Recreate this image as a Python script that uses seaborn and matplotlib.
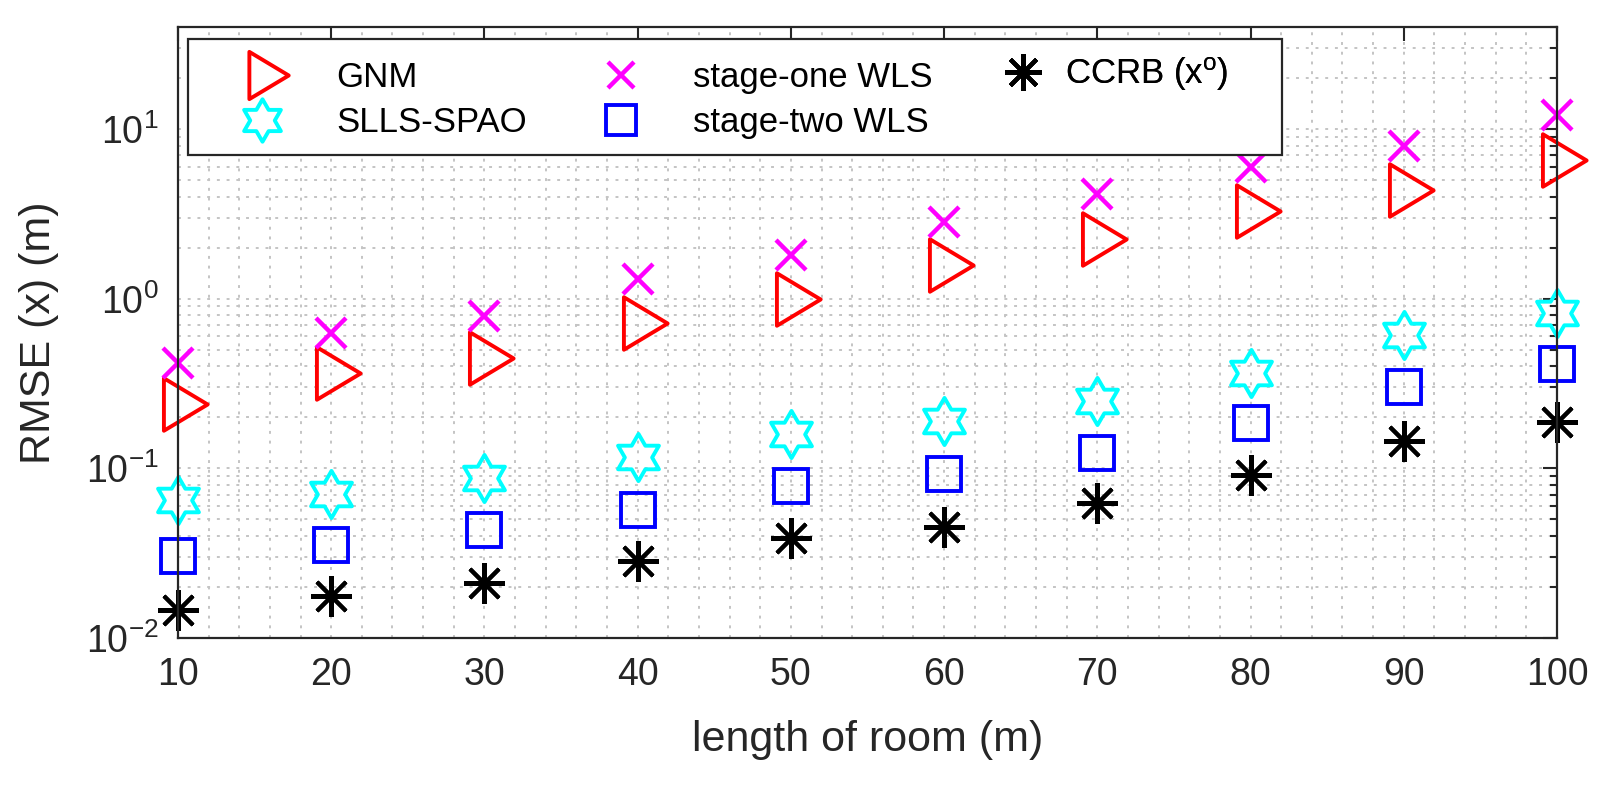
import numpy as np
import matplotlib
matplotlib.use('Agg')
import matplotlib.pyplot as plt
import seaborn as sns
from matplotlib.path import Path
from matplotlib.patches import Rectangle
from matplotlib.ticker import LogLocator, MultipleLocator, NullFormatter, LogFormatterSciNotation, FixedLocator

# ---- data ----
room_length = [10, 20, 30, 40, 50, 60, 70, 80, 90, 100]
gnm = [0.238, 0.363, 0.448, 0.72, 1.0, 1.59, 2.26, 3.31, 4.39, 6.6]
stage_one_wls = [0.418, 0.628, 0.787, 1.31, 1.81, 2.84, 4.15, 5.98, 7.93, 12.1]
slls_spao = [0.065, 0.071, 0.0875, 0.116, 0.160, 0.19, 0.251, 0.363, 0.61, 0.82]
stage_two_wls = [0.0304, 0.0355, 0.0432, 0.0565, 0.0792, 0.0925, 0.124, 0.185, 0.302, 0.412]
ccrb = [0.0146, 0.0176, 0.0211, 0.0284, 0.0386, 0.045, 0.0624, 0.0912, 0.145, 0.187]
x_ticks = [10, 20, 30, 40, 50, 60, 70, 80, 90, 100]
labels = ['GNM', 'SLLS-SPAO', 'stage-one WLS', 'stage-two WLS', 'CCRB (x$^{\\mathrm{o}}$)']

sns.set_theme(style='white')
plt.rcParams['font.family'] = ['Liberation Sans', 'DejaVu Sans']
plt.rcParams['mathtext.fontset'] = 'custom'
plt.rcParams['mathtext.rm'] = 'Liberation Sans'
plt.rcParams['mathtext.it'] = 'Liberation Sans:italic'
plt.rcParams['mathtext.bf'] = 'Liberation Sans:bold'

DARK = '#262626'

# custom markers (centred like MATLAB)
tri = Path([(-1, 1.8), (2, 0), (-1, -1.8), (-1, 1.8)],
           [Path.MOVETO, Path.LINETO, Path.LINETO, Path.CLOSEPOLY])
hv = []
for k in range(6):
    a_out = np.deg2rad(90 + 60 * k)
    a_in = np.deg2rad(120 + 60 * k)
    hv.append((np.cos(a_out), np.sin(a_out)))
    hv.append((np.cos(a_in) / np.sqrt(3), np.sin(a_in) / np.sqrt(3)))
hv.append(hv[0])
hexa = Path(hv, [Path.MOVETO] + [Path.LINETO] * 11 + [Path.CLOSEPOLY])

fig = plt.figure(figsize=(16.18, 7.89), dpi=100)
ax = fig.add_axes([0.1100, 0.1914, 0.8523, 0.7744])

series = [
    (labels[0], gnm, tri, 42, 'red', 2.8),
    (labels[1], slls_spao, hexa, 34, 'cyan', 2.8),
    (labels[2], stage_one_wls, 'x', 21.5, 'magenta', 3.2),
    (labels[3], stage_two_wls, 's', 24, 'blue', 2.8),
    (labels[4], ccrb, (8, 2, 0), 29.5, 'black', 2.9),
]
handles = []
for label, vals, mk, ms, col, mew in series:
    sns.lineplot(x=room_length, y=vals, ax=ax, marker=mk, markersize=ms,
                 linestyle='', markerfacecolor='none', markeredgecolor=col,
                 markeredgewidth=mew, color=col, label=label, legend=False,
                 clip_on=False)
    handles.append(ax.lines[-1])

ax.set_yscale('log')
ax.set_xlim(10, 100)
ax.set_ylim(0.01, 40)
ax.xaxis.set_major_locator(FixedLocator(x_ticks))
ax.xaxis.set_minor_locator(MultipleLocator(2))
ax.yaxis.set_major_locator(LogLocator(base=10, numticks=10))
ax.yaxis.set_minor_locator(LogLocator(base=10, subs=np.arange(2, 10), numticks=20))
ax.yaxis.set_major_formatter(LogFormatterSciNotation())
ax.yaxis.set_minor_formatter(NullFormatter())

ax.set_axisbelow(True)
ax.grid(True, which='both', linestyle=(0, (1.5, 3.5)), color='#c4c4c4', linewidth=1.4)

ax.tick_params(which='both', direction='in', top=True, right=True,
               colors=DARK, width=1.5, labelsize=27)
ax.tick_params(which='major', length=10, pad=14)
ax.tick_params(axis='y', which='minor', length=5)
ax.tick_params(axis='x', which='minor', length=0)
for sp in ax.spines.values():
    sp.set_color(DARK)
    sp.set_linewidth(1.6)
    sp.set_zorder(6)

ax.set_xlabel('length of room (m)', fontsize=31, color=DARK, labelpad=19)
ax.set_ylabel('RMSE (x) (m)', fontsize=31, color=DARK, labelpad=19)

# legend frame (MATLAB-style box)
frame = Rectangle((0.00725, 0.7905), 0.7933, 0.1899, transform=ax.transAxes,
                  facecolor='white', edgecolor=DARK, linewidth=1.6, zorder=4.9,
                  clip_on=False)
ax.add_patch(frame)

# three legend columns placed like the MATLAB layout
FS = 25
em = FS * 100 / 72
cols = [
    ([handles[0], handles[1]], [labels[0], labels[1]], 262, 336, 0.8805),
    ([handles[2], handles[3]], [labels[2], labels[3]], 621, 693, 0.8805),
    ([handles[4]], [labels[4]], 1023, 1065, 0.9231),
]
for hs, ls, mark_px, text_px, yc in cols:
    left_px = mark_px - em / 2
    tpad = (text_px - left_px - em) / em
    lg = ax.legend(hs, ls, loc='center left',
                   bbox_to_anchor=((left_px - 178) / 1379, yc),
                   fontsize=FS, frameon=False, borderpad=0, borderaxespad=0,
                   markerscale=0.9, handlelength=1.0, handletextpad=tpad,
                   labelspacing=0.36)
    lg.set_zorder(5)
    for t in lg.get_texts():
        t.set_color('black')
    ax.add_artist(lg)

fig.savefig('out.png', dpi=100)
